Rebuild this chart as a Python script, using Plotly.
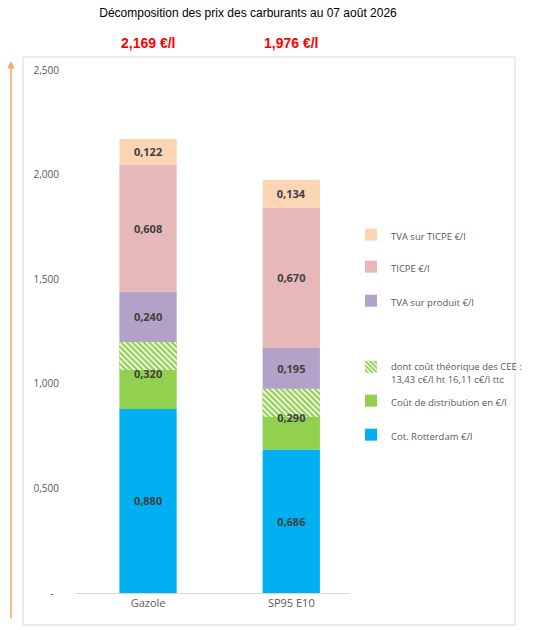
import plotly.graph_objects as go

carburants = ["Gazole", "SP95 E10"]
totaux = [2.169, 1.976]

rotterdam = [0.880, 0.686]
distribution = [0.320, 0.290]
cee = [0.1343, 0.1343]
tva_produit = [0.240, 0.195]
ticpe = [0.608, 0.670]
tva_ticpe = [0.122, 0.134]

y_ticks = [0, 0.5, 1.0, 1.5, 2.0, 2.5]
y_labels = ["-\u00a0\u00a0", "0,500", "1,000", "1,500", "2,000", "2,500"]


def fr(v):
    return f"{v:.3f}".replace(".", ",")


def px_x(p):
    # pixel -> paper, plot area 75..350
    return (p - 75) / 275


def px_y(p):
    # pixel -> paper, plot area 70..593
    return (593 - p) / 523


label_font = dict(family="Open Sans", size=11, color="#404040", weight="bold")

fig = go.Figure()

series = [
    ("Cot. Rotterdam €/l", rotterdam, "#00B0F0"),
    ("Coût de distribution en €/l", distribution, "#92D050"),
    ("TVA sur produit €/l", tva_produit, "#B3A2C7"),
    ("TICPE €/l", ticpe, "#E6B9B8"),
    ("TVA sur TICPE €/l", tva_ticpe, "#FCD5B4"),
]
legend_y = {
    "Cot. Rotterdam €/l": 434,
    "Coût de distribution en €/l": 400,
    "TVA sur produit €/l": 300,
    "TICPE €/l": 266,
    "TVA sur TICPE €/l": 234,
}

base = [0, 0]
legends = {}
n = 1
for name, vals, col in series:
    lg = "legend" if n == 1 else f"legend{n}"
    is_distrib = name.startswith("Coût")
    fig.add_trace(go.Bar(
        x=carburants, y=vals, base=list(base), name=name,
        marker=dict(color=col, line_width=0), width=0.4,
        text=None if is_distrib else [fr(v) for v in vals],
        textposition="inside", insidetextanchor="middle", constraintext="none",
        textfont=label_font, legend=lg,
    ))
    legends[lg] = legend_y[name]
    n += 1
    if is_distrib:
        # CEE portion drawn over the top of the distribution segment
        cee_base = [b + d - c for b, d, c in zip(base, distribution, cee)]
        lg = f"legend{n}"
        fig.add_trace(go.Bar(
            x=carburants, y=cee, base=cee_base,
            name="dont coût théorique des CEE :<br>13,43 c€/l ht 16,11 c€/l ttc",
            marker=dict(color="white", line_width=0,
                        pattern=dict(shape="\\", fgcolor="#92D050", bgcolor="white",
                                     fgopacity=1, size=4, solidity=0.6)),
            width=0.4, hoverinfo="skip", legend=lg,
        ))
        legends[lg] = 366
        n += 1
        # distribution labels on top of the hatch
        fig.add_trace(go.Scatter(
            x=carburants, y=[b + v / 2 for b, v in zip(base, vals)],
            mode="text", text=[fr(v) for v in vals], textfont=label_font,
            showlegend=False, hoverinfo="skip",
        ))
    base = [b + v for b, v in zip(base, vals)]

for i, t in enumerate(totaux):
    fig.add_annotation(x=carburants[i], y=px_y(43), xref="x", yref="paper",
                       yanchor="middle", text=f"<b>{fr(t)} €/l</b>", showarrow=False,
                       font=dict(family="Liberation Sans", size=14, color="#FF0000"))

fig.add_annotation(x=px_x(11), y=px_y(61), xref="paper", yref="paper",
                   ax=0, ay=559, text="", showarrow=True,
                   arrowhead=2, arrowsize=1, arrowwidth=1.5, arrowcolor="#F8A862")

fig.add_shape(type="rect", xref="paper", yref="paper",
              x0=px_x(23), x1=px_x(515), y0=px_y(625), y1=px_y(57),
              line=dict(color="#D9D9D9", width=1), layer="below")

legend_layout = {}
for lg, py in legends.items():
    legend_layout[lg] = dict(
        x=px_x(351), y=px_y(py - 12), xanchor="left", yanchor="top",
        bgcolor="rgba(0,0,0,0)", valign="top", itemwidth=30,
        font=dict(family="Open Sans", size=9.5, color="#595959"),
    )

fig.update_layout(
    width=541, height=630,
    margin=dict(l=75, r=191, t=70, b=37, autoexpand=False),
    barmode="overlay",
    plot_bgcolor="white", paper_bgcolor="white",
    title=dict(text="Décomposition des prix des carburants au 07 août 2026",
               x=px_x(248), xref="paper", xanchor="center",
               y=1 - 13 / 630, yanchor="middle",
               font=dict(family="Liberation Sans", size=12, color="#000000")),
    showlegend=True,
    **legend_layout,
)
fig.update_xaxes(range=[-0.51, 1.41], showline=True, linecolor="#D9D9D9",
                 showgrid=False, ticks="",
                 tickfont=dict(family="Open Sans", size=11, color="#595959"))
fig.update_yaxes(range=[0, 2.5], tickvals=y_ticks, ticktext=y_labels,
                 showgrid=False, zeroline=False, showline=False, ticks="",
                 ticklabelstandoff=15,
                 tickfont=dict(family="Open Sans", size=10, color="#595959"))

# page body has a default 8px margin, drop it so the figure fills the window
fig.write_html("out.html", config={"displayModeBar": False},
               post_script="document.body.style.margin='0';")
